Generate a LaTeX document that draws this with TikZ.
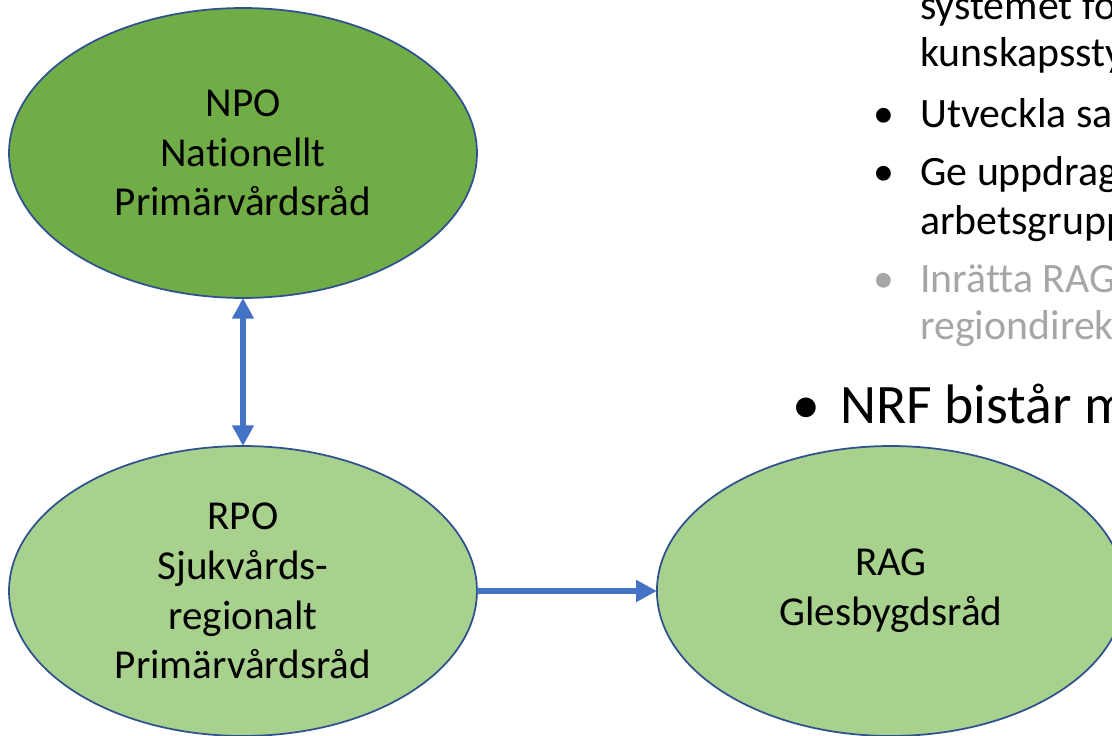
\documentclass[tikz,border=0pt]{standalone}
\usepackage{fontspec}
\setmainfont[Ligatures=NoCommon]{Carlito}
\usepackage{tikz}
\usetikzlibrary{shapes.geometric, arrows.meta, positioning}

\definecolor{npoGreen}{HTML}{70AD47}
\definecolor{rpoGreen}{HTML}{A9D18E}
\definecolor{rimBlue}{HTML}{2F528F}
\definecolor{linkBlue}{HTML}{4472C4}
\definecolor{dimGray}{HTML}{A6A6A6}

\begin{document}
\begin{tikzpicture}[
    x=0.02cm, y=-0.02cm,
    councilWidth/.style={minimum width=9.36cm},
    councilHeight/.style={minimum height=5.8cm},
    council/.style={ellipse, draw=rimBlue, line width=1pt, outer sep=0pt, inner sep=0pt,
        align=center, font=\fontsize{23.4}{28.3}\selectfont},
    link/.style={draw=linkBlue, line width=3.6pt, >={Triangle[length=11.8pt, width=11.8pt]}},
    item/.style={anchor=base west, inner sep=0pt, font=\fontsize{23.8}{26.6}\selectfont},
    dot/.style={anchor=base, inner sep=0pt, font=\fontsize{23.8}{26.6}\selectfont},
    every node/.style={
        text centered,
        }
        ]
    \useasboundingbox (0,0) rectangle (1112,736);
    \clip (0,0) rectangle (1112,736);

    \node[council, councilWidth, councilHeight, fill=npoGreen] (npo) at (243,153) {NPO\\Nationellt\\Primärvårdsråd};
    \node[council, councilWidth, councilHeight, fill=rpoGreen] (rpo) at (243,591) {RPO\\Sjukvårds-\\regionalt\\Primärvårdsråd};
    \node[council, councilWidth, councilHeight, fill=rpoGreen, right=3.6cm of rpo] (rag) {RAG\\Glesbygdsråd};

    \draw[link, <->] (npo) -- (rpo);
    \draw[link, ->] (rpo) -- (rag);

    % bullet list, cut off at the right edge
    \node[item] (sys) at (920,20) {systemet för};
    \node[item] (kun) at (920,67) {kunskapsstyr};
    \node[dot] (dotUtv) at (884,128) {•};
    \node[item] (utv) at (920,128) {Utveckla sam};
    \node[dot] (dotGe) at (884,186) {•};
    \node[item] (ge) at (920,186) {Ge uppdrag t};
    \node[item] (arb) at (920,235) {arbetsgrupp};
    \node[dot, dimGray] (dotInr) at (884,293) {•};
    \node[item, dimGray] (inr) at (920,293) {Inrätta RAG};
    \node[item, dimGray] (reg) at (920,340) {regiondirekt};
    \node[dot, font=\fontsize{31.7}{38}\selectfont] (dotNrf) at (806,423) {•};
    \node[item, font=\fontsize{31.7}{38}\selectfont] (nrf) at (840,423) {NRF bistår med};
\end{tikzpicture}
\end{document}
